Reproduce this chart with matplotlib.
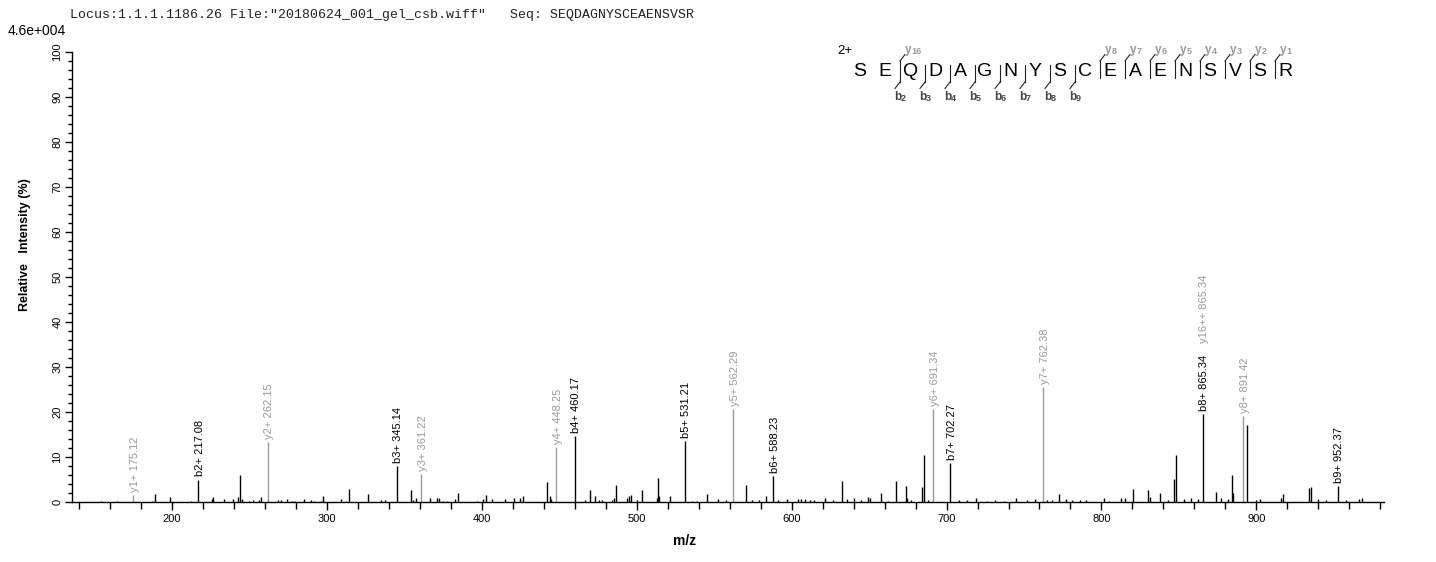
import matplotlib
matplotlib.use("Agg")
import matplotlib.pyplot as plt
import numpy as np

# ---------------- data ----------------
header_text = 'Locus:1.1.1.1186.26 File:"20180624_001_gel_csb.wiff"   Seq: SEQDAGNYSCEAENSVSR'
scale_text = "4.6e+004"
sequence = "SEQDAGNYSCEAENSVSR"
charge_text = "2+"
b_breaks = [2, 3, 4, 5, 6, 7, 8, 9]          # b-ion number -> break after residue n
y_breaks = [16, 8, 7, 6, 5, 4, 3, 2, 1]      # y-ion number

# unlabeled peaks
noise_mz = [154.2, 165.0, 187.1, 189.0, 198.9, 212.3, 225.8, 226.9, 234.0, 239.8, 243.0, 243.9,
            245.2, 250.1, 252.3, 256.1, 257.8, 268.4, 270.3, 274.2, 277.8, 279.8, 285.6, 290.1,
            292.0, 296.3, 297.8, 309.0, 312.5, 314.6, 326.9, 334.8, 337.8, 354.4, 355.5, 357.6,
            366.9, 371.0, 372.5, 375.0, 378.0, 383.0, 385.0, 397.2, 401.0, 403.0, 406.5,
            415.0, 420.8, 424.7, 426.6, 442.4, 443.9, 444.6, 466.9, 469.7, 472.9, 476.0, 478.0,
            484.0, 485.7, 487.0, 493.7, 495.4, 496.7, 500.0, 503.8, 513.2, 513.6, 514.7, 521.8,
            535.7, 539.3, 545.6, 552.6, 557.8, 570.6, 574.3, 579.0, 583.5, 591.5, 596.8, 604.3,
            605.8, 608.6, 612.0, 614.4, 621.9, 627.0, 632.6, 636.0, 640.5, 645.0, 649.5, 650.7,
            657.9, 662.0, 667.6, 674.0, 674.5, 677.0, 684.3, 685.5, 688.0, 708.0, 713.0, 719.0,
            726.0, 731.0, 737.0, 744.8, 752.0, 757.0, 765.0, 768.0, 772.4, 777.0, 781.0, 786.0,
            790.0, 801.9, 805.0, 812.4, 815.0, 820.2, 830.0, 831.0, 837.6, 843.0, 847.0, 848.3,
            853.0, 858.0, 862.0, 873.6, 877.0, 881.4, 884.5, 885.0, 893.6, 899.5, 902.0, 916.0,
            917.1, 934.0, 935.2, 939.8, 945.0, 957.9, 966.4, 968.1]
noise_int = [0.3, 0.2, 0.3, 1.8, 1.1, 0.3, 0.7, 1.2, 0.7, 0.7, 1.2, 6.1,
             0.7, 0.3, 0.4, 0.4, 1.2, 0.5, 0.5, 0.7, 0.3, 0.3, 0.7, 0.4,
             0.3, 0.3, 1.4, 0.7, 0.3, 3.0, 1.7, 0.5, 0.5, 2.7, 0.5, 0.9,
             0.9, 0.9, 0.9, 0.3, 0.3, 0.7, 2.1, 0.3, 0.7, 1.6, 0.7,
             0.7, 0.9, 0.9, 1.4, 4.5, 1.4, 0.7, 0.5, 2.7, 1.4, 0.5, 0.5,
             0.4, 0.9, 3.8, 1.0, 1.3, 1.6, 0.4, 2.7, 1.0, 5.4, 1.4, 1.3,
             0.3, 0.3, 1.7, 0.7, 0.4, 3.7, 0.4, 0.4, 1.3, 0.4, 0.7, 0.7,
             0.7, 0.7, 0.5, 0.5, 1.0, 0.4, 4.7, 0.7, 1.0, 0.5, 1.2, 1.0,
             2.1, 0.3, 4.7, 3.6, 0.9, 0.5, 3.4, 10.5, 0.5, 0.4, 0.4, 0.8,
             0.3, 0.4, 0.3, 1.0, 0.4, 0.6, 0.5, 0.4, 1.8, 0.6, 0.5, 0.4,
             0.5, 1.0, 0.3, 0.9, 1.0, 3.0, 2.7, 1.2, 2.1, 0.4, 5.2, 10.5,
             0.7, 0.8, 0.6, 2.3, 1.0, 0.7, 6.1, 1.9, 17.2, 0.5, 0.6, 0.9,
             1.8, 3.2, 3.4, 0.6, 0.4, 0.5, 0.6, 0.8]

# annotated fragment ions
ion_mz = [175.12, 217.08, 262.15, 345.14, 361.22, 448.25, 460.17, 531.21, 562.29, 588.23,
          691.34, 702.27, 762.38, 865.34, 891.42, 952.37]
ion_int = [1.6, 5.0, 13.3, 8.0, 6.3, 12.3, 14.6, 13.5, 20.6, 5.8,
           20.6, 8.7, 25.6, 19.5, 19.2, 3.6]
ion_labels = [["y1+ 175.12"], ["b2+ 217.08"], ["y2+ 262.15"], ["b3+ 345.14"], ["y3+ 361.22"],
              ["y4+ 448.25"], ["b4+ 460.17"], ["b5+ 531.21"], ["y5+ 562.29"], ["b6+ 588.23"],
              ["y6+ 691.34"], ["b7+ 702.27"], ["y7+ 762.38"], ["b8+ 865.34", "y16++ 865.34"],
              ["y8+ 891.42"], ["b9+ 952.37"]]
ion_type = ["y", "b", "y", "b", "y", "y", "b", "b", "y", "b", "y", "b", "y", "b", "y", "b"]

x_major = [200, 300, 400, 500, 600, 700, 800, 900]
y_major = [0, 10, 20, 30, 40, 50, 60, 70, 80, 90, 100]

# ---------------- style ----------------
W, H = 1436, 562
FONT = "Liberation Sans"
Y_COL = "#9a9a9a"
B_COL = "#000000"

plt.rcParams["font.family"] = [FONT, "DejaVu Sans"]

fig = plt.figure(figsize=(W / 100, H / 100), dpi=100)
ax = fig.add_axes([72 / W, 60 / H, (1384 - 72) / W, 450 / H])

ax.vlines(noise_mz, 0, noise_int, color="black", lw=1.0)
for mz, inten, labs, t in zip(ion_mz, ion_int, ion_labels, ion_type):
    col = Y_COL if t == "y" else B_COL
    ax.vlines([mz], 0, [inten], color=col, lw=1.0)
    for k, lab in enumerate(labs):
        lc = B_COL if lab.startswith("b") else Y_COL
        ax.annotate(lab, xy=(mz, inten), xytext=(1.5, 3 + k * 68), textcoords="offset pixels",
                    rotation=90, ha="center", va="bottom", fontsize=8, color=lc)

ax.set_xlim(135.7, 982.3)
ax.set_ylim(0, 100)
ax.spines["top"].set_visible(False)
ax.spines["right"].set_visible(False)
for s in ("left", "bottom"):
    ax.spines[s].set_linewidth(1.0)

ax.set_xticks(x_major)
ax.set_xticks(np.arange(140, 981, 20), minor=True)
ax.set_yticks(y_major)
ax.set_yticks(np.arange(0, 101, 2), minor=True)
ax.tick_params(axis="x", which="major", direction="out", length=6, width=1, labelsize=8, pad=3)
ax.tick_params(axis="x", which="minor", direction="out", length=5, width=1)
ax.tick_params(axis="y", which="major", direction="out", length=5, width=1, labelsize=8, pad=2)
ax.tick_params(axis="y", which="minor", direction="out", length=3, width=1)
for lbl in ax.get_yticklabels():
    lbl.set_rotation(90)
    lbl.set_va("center")

# ---------------- overlay (pixel coordinates) ----------------
ov = fig.add_axes([0, 0, 1, 1], zorder=5)
ov.set_xlim(0, W)
ov.set_ylim(H, 0)
ov.axis("off")
ov.patch.set_alpha(0)

ov.text(70, 15, header_text, family="Liberation Mono", fontsize=9.5, color="#222222", va="center", ha="left")
ov.text(8, 31, scale_text, fontsize=10, color="black", va="center", ha="left")
ov.text(25, 245, "Relative   Intensity (%)", rotation=90, fontsize=9, fontweight="bold", ha="center", va="center")
ov.text(685, 541, "m/z", fontsize=10, fontweight="bold", ha="center", va="center")

# sequence diagram
x0, dx, yc = 860, 25.0, 72
ov.text(845, 51, charge_text, fontsize=9.5, ha="center", va="center")
for i, ch in enumerate(sequence):
    ov.text(x0 + i * dx, yc, ch, fontsize=14, ha="center", va="center", color="black")

n = len(sequence)
breaks = {}
for b in b_breaks:
    breaks.setdefault(b, set()).add("b")
for yv in y_breaks:
    breaks.setdefault(n - yv, set()).add("y")

def sublabel(x, y, letter, num, color):
    ov.text(x, y, letter, fontsize=8.5, fontweight="bold", color=color, ha="left", va="center")
    ov.text(x + 6.5, y + 1.5, str(num), fontsize=6.5, fontweight="bold", color=color, ha="left", va="center")

for pos, kinds in breaks.items():
    xb = x0 + (pos - 0.5) * dx + 2.5
    top = 61 if "y" in kinds else 65
    bot = 82 if "b" in kinds else 78
    ov.plot([xb, xb], [top, bot], color="#222222", lw=0.8)
    if "y" in kinds:
        ov.plot([xb, xb + 5], [top, top - 6.5], color="#222222", lw=0.8)
        sublabel(xb + 5, 50, "y", n - pos, Y_COL)
    if "b" in kinds:
        ov.plot([xb, xb - 5], [bot, bot + 6.5], color="#222222", lw=0.8)
        sublabel(xb - 6, 97, "b", pos, "#444444")

fig.savefig("out.png", dpi=100)
